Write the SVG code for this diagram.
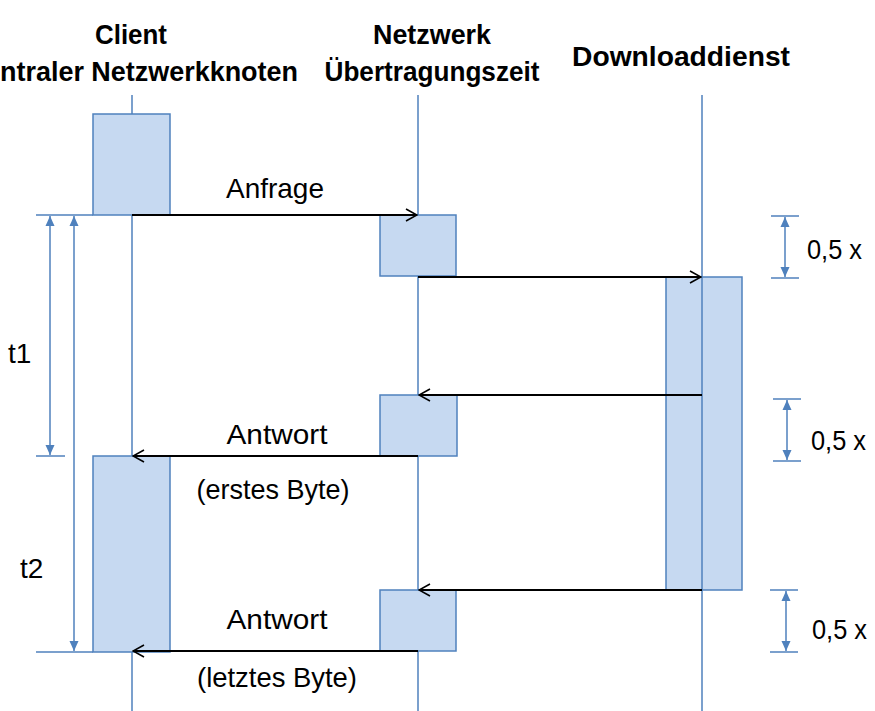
<svg xmlns="http://www.w3.org/2000/svg" width="875" height="711" viewBox="0 0 875 711">
<defs>
<marker id="open" viewBox="0 0 14 14" refX="13" refY="7" markerWidth="14" markerHeight="14" markerUnits="userSpaceOnUse" orient="auto">
<path d="M2,1 L13,7 L2,13" fill="none" stroke="#000" stroke-width="1.6"/>
</marker>
<marker id="tri" viewBox="0 0 10 10" refX="10" refY="5" markerWidth="10" markerHeight="10" markerUnits="userSpaceOnUse" orient="auto-start-reverse">
<path d="M0,0.5 L10,5 L0,9.5 Z" fill="#4f81bd"/>
</marker>
</defs>
<style>
.life{stroke:#4f81bd;stroke-width:1.5;fill:none}
.box{fill:#c6d9f1;stroke:#4f81bd;stroke-width:1.5}
.msg{stroke:#000;stroke-width:1.8;fill:none;marker-end:url(#open)}
.dim{stroke:#4f81bd;stroke-width:1.5;fill:none;marker-start:url(#tri);marker-end:url(#tri)}
.tick{stroke:#4f81bd;stroke-width:1.5;fill:none}
.hd{font-family:"Liberation Sans",Arial,sans-serif;font-weight:bold;font-size:28px;fill:#000}
.lb{font-family:"Liberation Sans",Arial,sans-serif;font-size:28px;fill:#000}
</style>
<rect width="875" height="711" fill="#fff"/>
<g id="lifelines">
<line class="life" x1="132" y1="95" x2="132" y2="711"/>
<line class="life" x1="418" y1="95" x2="418" y2="711"/>
<line class="life" x1="702" y1="95" x2="702" y2="711"/>
</g>
<g id="client">
<text class="hd" x="131" y="44" text-anchor="middle" textLength="72" lengthAdjust="spacingAndGlyphs">Client</text>
<text class="hd" x="0" y="81" textLength="298" lengthAdjust="spacingAndGlyphs">ntraler Netzwerkknoten</text>
<rect class="box" x="93" y="114" width="77" height="101"/>
<rect class="box" x="93" y="456" width="77" height="196"/>
</g>
<g id="netzwerk">
<text class="hd" x="432" y="44" text-anchor="middle" textLength="118" lengthAdjust="spacingAndGlyphs">Netzwerk</text>
<text class="hd" x="432" y="81" text-anchor="middle" textLength="215" lengthAdjust="spacingAndGlyphs">Übertragungszeit</text>
<rect class="box" x="380" y="215" width="76" height="61"/>
<rect class="box" x="380" y="395" width="77" height="61"/>
<rect class="box" x="380" y="590" width="76" height="61"/>
</g>
<g id="downloaddienst">
<text class="hd" x="681" y="66" text-anchor="middle" textLength="218" lengthAdjust="spacingAndGlyphs">Downloaddienst</text>
<rect class="box" x="666" y="277" width="76" height="313"/>
<line class="life" x1="702" y1="277" x2="702" y2="590"/>
</g>
<g id="connectors">
<line class="msg" x1="132" y1="215" x2="417" y2="215"/>
<line class="msg" x1="418" y1="277" x2="701" y2="277"/>
<line class="msg" x1="702" y1="395" x2="419" y2="395"/>
<line class="msg" x1="418" y1="456" x2="133" y2="456"/>
<line class="msg" x1="702" y1="590" x2="419" y2="590"/>
<line class="msg" x1="418" y1="651" x2="133" y2="651"/>
</g>
<g id="labels">
<text class="lb" x="275" y="198" text-anchor="middle" textLength="98" lengthAdjust="spacingAndGlyphs">Anfrage</text>
<text class="lb" x="277" y="444" text-anchor="middle" textLength="101" lengthAdjust="spacingAndGlyphs">Antwort</text>
<text class="lb" x="273" y="499" text-anchor="middle" textLength="153" lengthAdjust="spacingAndGlyphs">(erstes Byte)</text>
<text class="lb" x="277" y="629" text-anchor="middle" textLength="101" lengthAdjust="spacingAndGlyphs">Antwort</text>
<text class="lb" x="277" y="687" text-anchor="middle" textLength="160" lengthAdjust="spacingAndGlyphs">(letztes Byte)</text>
</g>
<g id="timing">
<line class="tick" x1="36" y1="215" x2="93" y2="215"/>
<line class="tick" x1="36" y1="456" x2="65" y2="456"/>
<line class="tick" x1="36" y1="652" x2="93" y2="652"/>
<line class="dim" x1="50" y1="216" x2="50" y2="455"/>
<line class="dim" x1="74" y1="216" x2="74" y2="651"/>
<text class="lb" x="8" y="363">t1</text>
<text class="lb" x="20" y="578">t2</text>
</g>
<g id="halfx">
<line class="tick" x1="771" y1="216" x2="799" y2="216"/>
<line class="tick" x1="771" y1="278" x2="799" y2="278"/>
<line class="dim" x1="785" y1="217" x2="785" y2="277"/>
<text class="lb" x="807" y="259" textLength="55" lengthAdjust="spacingAndGlyphs">0,5 x</text>
<line class="tick" x1="773" y1="399" x2="801" y2="399"/>
<line class="tick" x1="773" y1="461" x2="801" y2="461"/>
<line class="dim" x1="787" y1="400" x2="787" y2="460"/>
<text class="lb" x="811" y="450" textLength="55" lengthAdjust="spacingAndGlyphs">0,5 x</text>
<line class="tick" x1="770" y1="590" x2="798" y2="590"/>
<line class="tick" x1="770" y1="652" x2="798" y2="652"/>
<line class="dim" x1="786" y1="591" x2="786" y2="651"/>
<text class="lb" x="812" y="639" textLength="55" lengthAdjust="spacingAndGlyphs">0,5 x</text>
</g>
</svg>
